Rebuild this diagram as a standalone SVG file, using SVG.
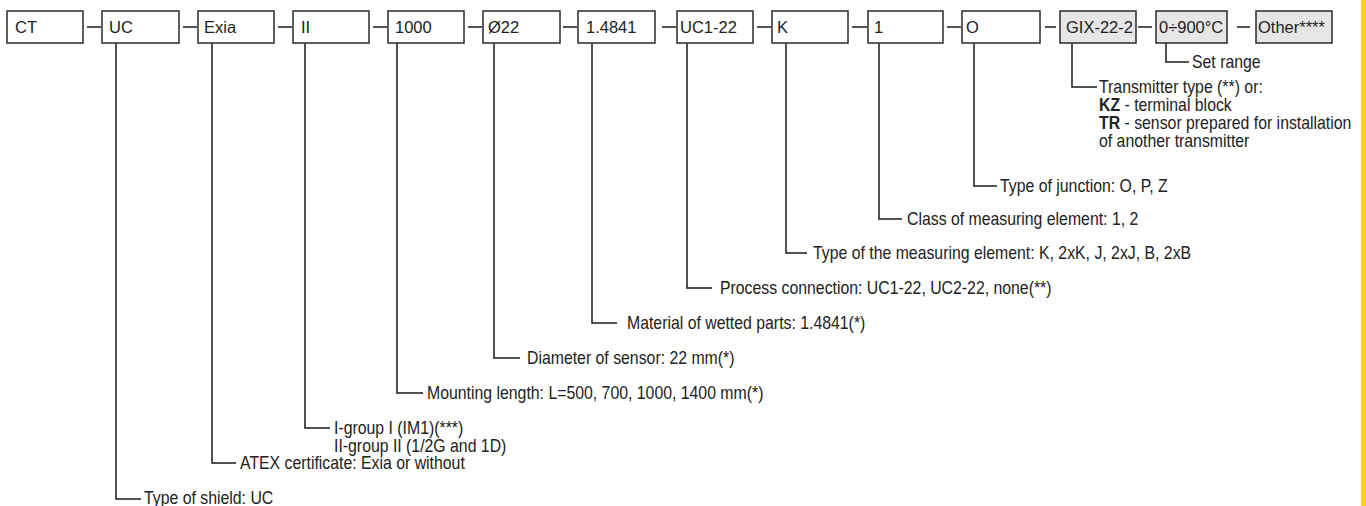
<svg xmlns="http://www.w3.org/2000/svg" width="1366" height="506" viewBox="0 0 1366 506">
<style>
.box{fill:#fff;stroke:#2a2a2a;stroke-width:1.5}
.gbox{fill:#e6e6e6;stroke:#2a2a2a;stroke-width:1.5}
.bt{font-family:"Liberation Sans",Arial,sans-serif;font-size:16.5px;fill:#222}
.lb{font-family:"Liberation Sans",Arial,sans-serif;font-size:17.5px;fill:#222}
.ln{fill:none;stroke:#1a1a1a;stroke-width:1.5}
</style>
<rect x="0" y="0" width="1366" height="506" fill="#fff"/>
<rect x="1361" y="0" width="5" height="506" fill="#FFD320"/>
<g id="connectors" class="ln">
<path d="M87 27H101M183 27H197M278 27H292M373 27H387M468 27H482M563 27H577M662 27H676M757 27H771M852 27H867M947 27H961M1045 27H1056M1138 27H1152M1237 27H1250"/>
<polyline points="116,43 116,499 141,499"/>
<polyline points="212,43 212,463 236,463"/>
<polyline points="305,43 305,428 330,428"/>
<polyline points="397,43 397,393 423,393"/>
<polyline points="494,43 494,358 520,358"/>
<polyline points="592,43 592,323 617,323"/>
<polyline points="687,43 687,288 712,288"/>
<polyline points="786,43 786,253 807,253"/>
<polyline points="879,43 879,219 902,219"/>
<polyline points="974,43 974,186 997,186"/>
<polyline points="1072,43 1072,87 1097,87"/>
<polyline points="1166,43 1166,62 1189,62"/>
</g>
<g id="n-ct"><rect class="box" x="7" y="11" width="76" height="32"/><text class="bt" x="15" y="33">CT</text></g>
<g id="n-uc"><rect class="box" x="102" y="11" width="77" height="32"/><text class="bt" x="109" y="33">UC</text></g>
<g id="n-exia"><rect class="box" x="198" y="11" width="76" height="32"/><text class="bt" x="204" y="33">Exia</text></g>
<g id="n-ii"><rect class="box" x="293" y="11" width="76" height="32"/><text class="bt" x="301" y="33">II</text></g>
<g id="n-1000"><rect class="box" x="388" y="11" width="76" height="32"/><text class="bt" x="395" y="33">1000</text></g>
<g id="n-d22"><rect class="box" x="483" y="11" width="77" height="32"/><text class="bt" x="488" y="33">Ø22</text></g>
<g id="n-14841"><rect class="box" x="578" y="11" width="77" height="32"/><text class="bt" x="586" y="33">1.4841</text></g>
<g id="n-uc122"><rect class="box" x="677" y="11" width="76" height="32"/><text class="bt" x="680" y="33">UC1-22</text></g>
<g id="n-k"><rect class="box" x="772" y="11" width="76" height="32"/><text class="bt" x="777" y="33">K</text></g>
<g id="n-1"><rect class="box" x="868" y="11" width="75" height="32"/><text class="bt" x="874" y="33">1</text></g>
<g id="n-o"><rect class="box" x="962" y="11" width="78" height="32"/><text class="bt" x="966" y="33">O</text></g>
<g id="n-gix"><rect class="gbox" x="1060" y="11" width="76" height="32"/><text class="bt" x="1066" y="33">GIX-22-2</text></g>
<g id="n-range"><rect class="gbox" x="1156" y="11" width="71" height="32"/><text class="bt" x="1159" y="33">0÷900°C</text></g>
<g id="n-other"><rect class="gbox" x="1256" y="11" width="76" height="32"/><text class="bt" x="1258" y="33">Other****</text></g>
<g id="labels">
<text class="lb" transform="translate(144,504) scale(0.905,1)">Type of shield: UC</text>
<text class="lb" transform="translate(240,469) scale(0.905,1)">ATEX certificate: Exia or without</text>
<text class="lb" transform="translate(334,433.5) scale(0.905,1)">I-group I (IM1)(***)</text>
<text class="lb" transform="translate(334,451.5) scale(0.905,1)">II-group II (1/2G and 1D)</text>
<text class="lb" transform="translate(427,399) scale(0.905,1)">Mounting length: L=500, 700, 1000, 1400 mm(*)</text>
<text class="lb" transform="translate(527,364) scale(0.905,1)">Diameter of sensor: 22 mm(*)</text>
<text class="lb" transform="translate(627,329) scale(0.905,1)">Material of wetted parts: 1.4841(*)</text>
<text class="lb" transform="translate(720,294) scale(0.905,1)">Process connection: UC1-22, UC2-22, none(**)</text>
<text class="lb" transform="translate(813,259) scale(0.905,1)">Type of the measuring element: K, 2xK, J, 2xJ, B, 2xB</text>
<text class="lb" transform="translate(907,225) scale(0.905,1)">Class of measuring element: 1, 2</text>
<text class="lb" transform="translate(1000,192) scale(0.905,1)">Type of junction: O, P, Z</text>
<text class="lb" transform="translate(1099,93) scale(0.905,1)">Transmitter type (**) or:</text>
<text class="lb" transform="translate(1099,111) scale(0.905,1)"><tspan font-weight="bold">KZ</tspan> - terminal block</text>
<text class="lb" transform="translate(1099,129) scale(0.905,1)"><tspan font-weight="bold">TR</tspan> - sensor prepared for installation</text>
<text class="lb" transform="translate(1099,147) scale(0.905,1)">of another transmitter</text>
<text class="lb" transform="translate(1192,68) scale(0.905,1)">Set range</text>
</g>
</svg>
